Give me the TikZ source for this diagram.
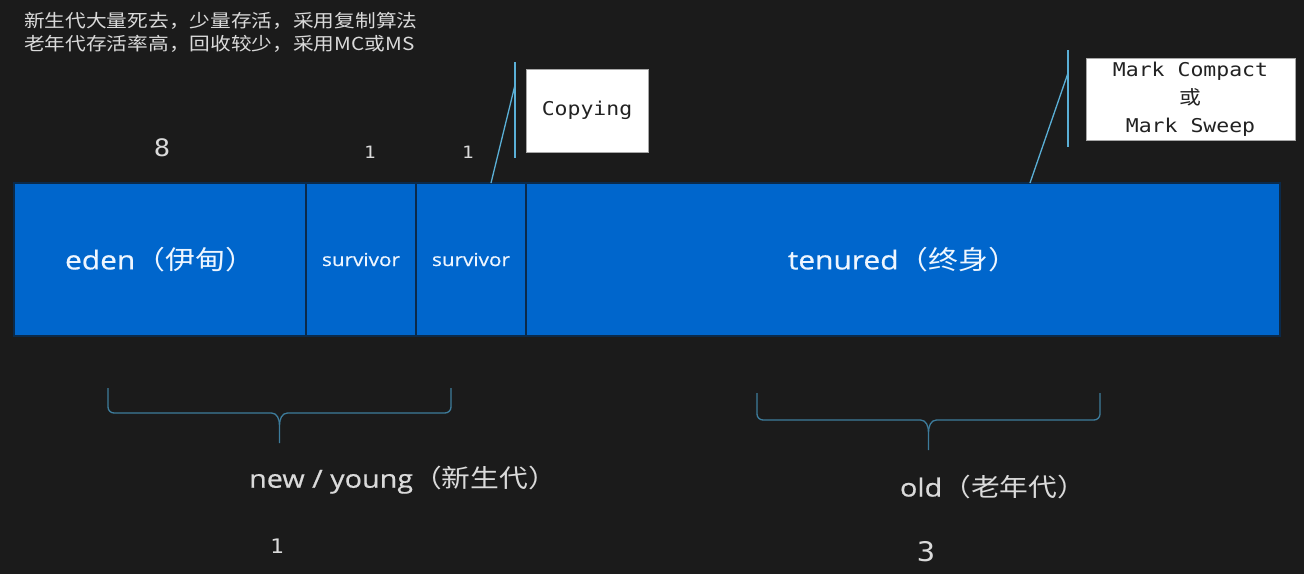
\documentclass[tikz,border=0pt]{standalone}
\usepackage{fontspec}
\setmainfont{Open Sans}[FakeStretch=1.15,FakeBold=0.6]
\setmonofont{DejaVu Sans Mono}[FakeStretch=1.13]
\newfontfamily\cjk{Noto Sans CJK SC}[FakeStretch=1.15]
\usepackage{tikz}
\usetikzlibrary{positioning}
\definecolor{Board}{HTML}{1B1B1B}
\definecolor{Heap}{HTML}{0066CC}
\definecolor{Rim}{HTML}{0B2A4A}
\definecolor{Chalk}{HTML}{DADADA}
\definecolor{Pale}{HTML}{EEF6FF}
\definecolor{Lead}{HTML}{5AAFD6}
\definecolor{Curl}{HTML}{3D7C9C}
\definecolor{Ink}{HTML}{222222}

\begin{document}
\begin{tikzpicture}[
  x=1pt,y=-1pt,
  region/.style={draw=Rim,line width=1.2pt,fill=Heap,text=Pale,
    minimum height=153pt,inner sep=0pt,outer sep=0pt},
  algo/.style={draw=Ink!40,fill=white,text=Ink,align=center,
    font=\ttfamily\fontsize{19}{28}\selectfont,inner sep=0pt},
  num/.style={text=Chalk,font=\ttfamily\fontsize{17}{20}\selectfont},
  tag/.style={text=Chalk,font=\fontsize{25}{28}\selectfont},
  lead/.style={draw=Lead,line width=1.3pt},
  curl/.style={draw=Curl,line width=1.3pt}
]
\useasboundingbox (0,0) rectangle (1304,574);
\fill[Board] (0,0) rectangle (1304,574);

% Remark in the corner.
\node[anchor=north west,align=left,inner sep=0pt,text=Chalk,
  font=\cjk\fontsize{18}{23}\selectfont] (remark) at (24,12)
  {新生代大量死去，少量存活，采用复制算法\\
   老年代存活率高，回收较少，采用MC或MS};

% The heap, split into generations.
\node[region,minimum width=292pt,font=\fontsize{26}{30}\selectfont]
  (eden) at (160,259.5) {eden{\cjk（伊甸）}};
\node[region,minimum width=110pt,font=\fontsize{18}{22}\selectfont,
  right=0pt of eden] (survA) {survivor};
\node[region,minimum width=110pt,font=\fontsize{18}{22}\selectfont,
  right=0pt of survA] (survB) {survivor};
\node[region,minimum width=754pt,font=\fontsize{26}{30}\selectfont,
  right=0pt of survB] (tenured) {tenured{\cjk（终身）}};

% Ratios.
\node[num,font=\ttfamily\fontsize{24}{28}\selectfont] (rateden) at (162,148) {8};
\node[num] (ratsurvA) at (370,152) {1};
\node[num] (ratsurvB) at (468,152) {1};
\node[num,font=\ttfamily\fontsize{20}{24}\selectfont] (ratyoung) at (277,546) {1};
\node[num,font=\ttfamily\fontsize{27}{30}\selectfont] (ratold) at (926,552) {3};

% Collectors.
\node[algo,minimum width=122pt,minimum height=83pt] (copying) at (587,110.5)
  {Copying};
\node[algo,minimum width=209pt,minimum height=82pt] (marking) at (1190.5,99)
  {Mark Compact\\{\cjk 或}\\Mark Sweep};

\coordinate (cpytop) at (515,62);
\coordinate (cpybot) at (515,158);
\coordinate (cpyknee) at (515,85);
\coordinate (cpyfoot) at (491,183);
\draw[lead] (cpytop) -- (cpybot);
\draw[lead] (cpyfoot) -- (cpyknee);

\coordinate (mrktop) at (1068,50);
\coordinate (mrkbot) at (1068,147);
\coordinate (mrkknee) at (1068,73);
\coordinate (mrkfoot) at (1030,183);
\draw[lead] (mrktop) -- (mrkbot);
\draw[lead] (mrkfoot) -- (mrkknee);

% Braces under the heap.
\foreach \a/\b/\t/\h in {108/451/388/413, 757/1100/393/420} {
  \pgfmathsetmacro\m{(\a+\b)/2}
  \draw[curl] (\a,\t) -- (\a,\h-6) to[out=-90,in=180] (\a+6,\h)
    -- (\m-8,\h) to[out=0,in=90] (\m,\h+12) -- (\m,\h+30);
  \draw[curl] (\m,\h+12) to[out=90,in=180] (\m+8,\h)
    -- (\b-6,\h) to[out=0,in=-90] (\b,\h-6) -- (\b,\t);
}
\node[tag] (youngtag) at (403,480) {new / young{\cjk（新生代）}};
\node[tag] (oldtag) at (993,487) {old{\cjk（老年代）}};
\end{tikzpicture}
\end{document}
